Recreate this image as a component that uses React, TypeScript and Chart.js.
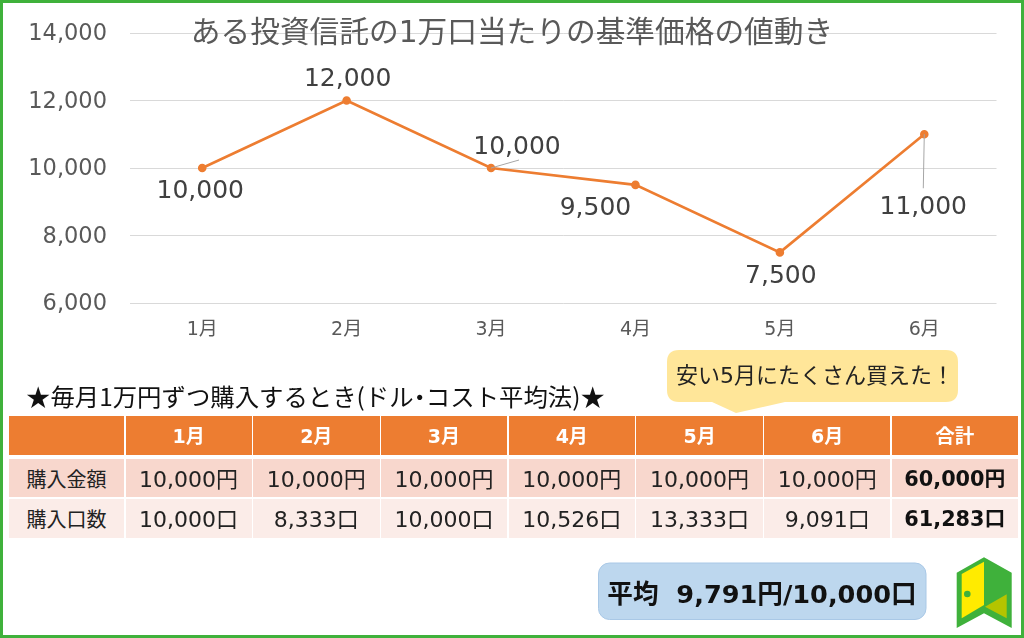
import React, { useEffect, useRef } from "react";
import { Chart, registerables } from "chart.js";

Chart.register(...registerables);

const months = ["1月", "2月", "3月", "4月", "5月", "6月"];
const prices = [10000, 12000, 10000, 9500, 7500, 11000];
const chartTitle = "ある投資信託の1万口当たりの基準価格の値動き";
const headingStart = "★毎月1万円ずつ購入するとき(ドル";
const headingDot = "・";
const headingEnd = "コスト平均法)★";
const calloutText = "安い5月にたくさん買えた！";
const averageLabel = "平均";
const averageValue = "9,791円/10,000口";
const totalHeader = "合計";
const amountLabel = "購入金額";
const unitsLabel = "購入口数";
const amounts = ["10,000円", "10,000円", "10,000円", "10,000円", "10,000円", "10,000円"];
const amountTotal = "60,000円";
const units = ["10,000口", "8,333口", "10,000口", "10,526口", "13,333口", "9,091口"];
const unitsTotal = "61,283口";

const FONT = '"DejaVu Sans", "Noto Sans CJK JP", sans-serif';
const CJK = '"Noto Sans CJK JP", sans-serif';
const ORANGE = "#ED7D31";
const GREEN = "#3FB13B";

const labelOffsets = [
  { dx: -2, dy: 23 },
  { dx: 1, dy: -21 },
  { dx: 26, dy: -21 },
  { dx: -40, dy: 24 },
  { dx: 1, dy: 24 },
  { dx: -1, dy: 73 },
];
const leaderEnds: Record<number, { dx: number; dy: number }> = {
  2: { dx: 28, dy: -8 },
  5: { dx: -1, dy: 54 },
};

const valueLabels = {
  id: "valueLabels",
  afterDatasetsDraw(chart: any) {
    const ctx = chart.ctx;
    const meta = chart.getDatasetMeta(0);
    ctx.save();
    meta.data.forEach((pt: any, i: number) => {
      const end = leaderEnds[i];
      if (end) {
        ctx.strokeStyle = "#A6A6A6";
        ctx.lineWidth = 1;
        ctx.beginPath();
        ctx.moveTo(pt.x, pt.y);
        ctx.lineTo(pt.x + end.dx, pt.y + end.dy);
        ctx.stroke();
      }
      const off = labelOffsets[i];
      ctx.font = `25px ${FONT}`;
      ctx.fillStyle = "#404040";
      ctx.textAlign = "center";
      ctx.textBaseline = "middle";
      ctx.fillText(prices[i].toLocaleString("en-US"), pt.x + off.dx, pt.y + off.dy);
    });
    ctx.restore();
  },
};

const colLeft = [8.5, 125.5, 253, 380.7, 508.5, 636.3, 764, 891.7];
const colRight = [124.3, 251.7, 379.5, 507.2, 635, 762.8, 890.3, 1018];
const rowTop = [416.3, 459, 498.7];
const rowBottom = [455, 497.3, 538.3];

function Cell(p: { c: number; r: number; bg: string; color: string; bold?: boolean; size: number; text: string; nudge?: number }) {
  const nudge = p.nudge ?? 2;
  return (
    <div
      style={{
        position: "absolute",
        left: colLeft[p.c],
        width: colRight[p.c] - colLeft[p.c],
        top: rowTop[p.r],
        height: rowBottom[p.r] - rowTop[p.r],
        background: p.bg,
        color: p.color,
        fontFamily: FONT,
        fontSize: p.size,
        fontWeight: p.bold ? 700 : 400,
        display: "flex",
        alignItems: "center",
        justifyContent: "center",
        whiteSpace: "nowrap",
        paddingBottom: nudge,
        boxSizing: "border-box",
      }}
    >
      {p.text}
    </div>
  );
}

export default function App() {
  const ref = useRef<HTMLCanvasElement>(null);
  useEffect(() => {
    const chart = new Chart(ref.current!, {
      type: "line",
      data: {
        labels: months,
        datasets: [
          {
            data: prices,
            borderColor: ORANGE,
            backgroundColor: ORANGE,
            borderWidth: 2.6,
            pointRadius: 3,
            pointBackgroundColor: ORANGE,
            pointBorderColor: ORANGE,
            tension: 0,
          },
        ],
      },
      options: {
        responsive: false,
        animation: false,
        layout: { padding: { top: 0, left: 27.5, right: 27.5, bottom: 0 } },
        plugins: {
          legend: { display: false },
          tooltip: { enabled: false },
          title: {
            display: true,
            text: chartTitle,
            color: "#595959",
            font: { family: FONT, size: 29.7, weight: "normal", lineHeight: 1.2 },
            padding: { top: 16, bottom: -18.64 },
          },
        },
        scales: {
          x: {
            offset: true,
            grid: { display: false, drawTicks: false },
            border: { display: false },
            ticks: { color: "#595959", font: { family: FONT, size: 19 }, padding: 16, maxRotation: 0 },
            afterFit(s: any) {
              s.height = 335;
            },
          },
          y: {
            min: 6000,
            max: 14000,
            grid: { color: "#D9D9D9", lineWidth: 1, drawTicks: false },
            border: { display: false },
            ticks: {
              stepSize: 2000,
              color: "#595959",
              font: { family: FONT, size: 22.5 },
              padding: 23,
              labelOffset: 1.5,
              callback: (v: any) => Number(v).toLocaleString("en-US"),
            },
            afterFit(s: any) {
              s.width = 102.5;
              s.paddingTop = 0;
              s.paddingBottom = 0;
            },
          },
        },
      },
      plugins: [valueLabels],
    } as any);
    return () => chart.destroy();
  }, []);

  return (
    <div style={{ position: "absolute", left: 0, top: 0, width: 1024, height: 638, background: "#fff", overflow: "hidden" }}>
      <canvas ref={ref} width={1024} height={638} style={{ position: "absolute", left: 0, top: 0, display: "block" }} />

      <div
        style={{
          position: "absolute",
          left: 26,
          top: 379,
          fontFamily: CJK,
          fontSize: 24.4,
          color: "#111",
          whiteSpace: "nowrap",
          lineHeight: "34px",
        }}
      >
        {headingStart}
        <span style={{ fontFeatureSettings: '"palt"' }}>{headingDot}</span>
        {headingEnd}
      </div>

      <svg width={1024} height={638} style={{ position: "absolute", left: 0, top: 0 }}>
        <path
          d="M679 350 H946 Q958 350 958 362 V390 Q958 402 946 402 H785 L736 413 L712 402 H679 Q667 402 667 390 V362 Q667 350 679 350 Z"
          fill="#FFE699"
        />
        <rect x={598.5} y={563} width={327.5} height={56.5} rx={11} fill="#BDD7EE" stroke="#A9C8E6" strokeWidth={1} />
        <path d="M956.7 572.7 L984 557.3 L1011.7 572.7 V628 L984 613.3 L956.7 628 Z" fill={GREEN} />
        <path d="M961.7 574 L984 561.7 V605 L961.7 618.3 Z" fill="#FFEB00" />
        <path d="M985 606.7 L1006.7 594.3 V618.3 Z" fill="#B5C400" />
        <circle cx={967.3} cy={594} r={3.3} fill={GREEN} />
      </svg>

      <div
        style={{
          position: "absolute",
          left: 676,
          top: 347,
          height: 52,
          display: "flex",
          alignItems: "center",
          fontFamily: FONT,
          fontSize: 22,
          color: "#222",
          whiteSpace: "nowrap",
        }}
      >
        {calloutText}
      </div>

      <Cell c={0} r={0} bg={ORANGE} color="#fff" size={20} text="" />
      {months.map((m, i) => (
        <Cell key={m} c={i + 1} r={0} bg={ORANGE} color="#fff" size={19} bold text={m} />
      ))}
      <Cell c={7} r={0} bg={ORANGE} color="#fff" size={19.5} bold text={totalHeader} />

      <Cell c={0} r={1} bg="#F8D7CD" color="#222" size={20} nudge={0} text={amountLabel} />
      {amounts.map((t, i) => (
        <Cell key={i} c={i + 1} r={1} bg="#F8D7CD" color="#222" size={22} text={t} />
      ))}
      <Cell c={7} r={1} bg="#F8D7CD" color="#111" size={20.8} text={amountTotal} bold />

      <Cell c={0} r={2} bg="#FBECE8" color="#222" size={20} nudge={0} text={unitsLabel} />
      {units.map((t, i) => (
        <Cell key={i} c={i + 1} r={2} bg="#FBECE8" color="#222" size={22} text={t} />
      ))}
      <Cell c={7} r={2} bg="#FBECE8" color="#111" size={20.8} text={unitsTotal} bold />

      <div
        style={{
          position: "absolute",
          left: 598,
          width: 328,
          top: 563,
          height: 57,
          display: "flex",
          alignItems: "center",
          justifyContent: "center",
          fontFamily: FONT,
          fontWeight: 700,
          fontSize: 25.6,
          color: "#111",
          whiteSpace: "pre",
        }}
      >
        {`${averageLabel}  ${averageValue}`}
      </div>

      <div style={{ position: "absolute", left: 0, top: 0, width: 1024, height: 638, boxSizing: "border-box", border: `3px solid ${GREEN}` }} />
    </div>
  );
}
